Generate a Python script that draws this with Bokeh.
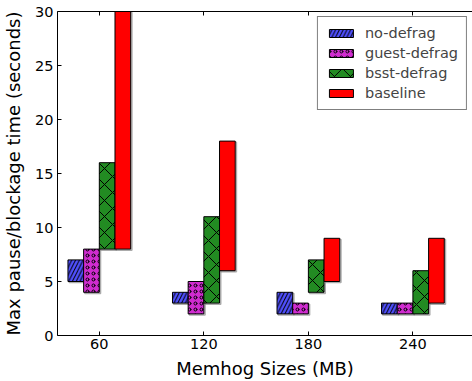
from bokeh.plotting import figure
from bokeh.models import (ColumnDataSource, Range1d, FixedTicker, LinearAxis, Legend, LegendItem)
from bokeh.transform import dodge
from bokeh.embed import file_html
from bokeh.resources import INLINE

sizes = [60, 120, 180, 240]
series = ["no-defrag", "guest-defrag", "bsst-defrag", "baseline"]
nodefrag_low = [5, 3, 2, 2]
nodefrag_high = [7, 4, 4, 3]
guest_low = [4, 2, 2, 2]
guest_high = [8, 5, 3, 3]
bsst_low = [8, 3, 4, 2]
bsst_high = [16, 11, 7, 6]
base_low = [8, 6, 5, 3]
base_high = [30, 18, 9, 9]

FONT = "DejaVu Sans"

p = figure(width=472, height=381, output_backend="svg", toolbar_location=None,
           x_range=Range1d(36, 274.2), y_range=Range1d(0, 30),
           min_border_left=56, min_border_right=0, min_border_top=11, min_border_bottom=44)
p.outline_line_color = None
p.grid.visible = False
p.background_fill_color = "white"

styles = [
    dict(low=nodefrag_low, high=nodefrag_high, color="#5050ff", hatch="/", scale=7.5, off=-13.5),
    dict(low=guest_low, high=guest_high, color="#d02cd0", hatch="o", scale=6, off=-4.5),
    dict(low=bsst_low, high=bsst_high, color="#228b22", hatch="x", scale=16, off=4.5),
    dict(low=base_low, high=base_high, color="#ff0000", hatch=" ", scale=12, off=13.5),
]

items = []
for name, s in zip(series, styles):
    src = ColumnDataSource(dict(x=sizes, bottom=s["low"], top=s["high"]))
    # soft shadow
    p.vbar(x=dodge("x", s["off"] + 0.7, range=p.x_range), width=9, bottom=dodge("bottom", -0.1, range=p.y_range),
           top=dodge("top", -0.1, range=p.y_range), source=src,
           fill_color=None, line_color="#888888", line_alpha=0.7, line_width=1.5)
    r = p.vbar(x=dodge("x", s["off"], range=p.x_range), width=9, bottom="bottom", top="top", source=src,
               fill_color=s["color"], line_color="black", line_width=1,
               hatch_pattern=s["hatch"], hatch_color="black", hatch_scale=s["scale"], hatch_weight=1)
    items.append(LegendItem(label=name, renderers=[r]))

legend = Legend(items=items, location="top_right")
legend.label_text_font = FONT
legend.label_text_font_size = "14.5px"
legend.border_line_color = "black"
legend.border_line_width = 1
legend.glyph_width = 30
legend.glyph_height = 10
legend.label_height = 10
legend.spacing = 4
legend.padding = 8
legend.margin = 5
legend.label_standoff = 9
p.add_layout(legend)

xa = p.xaxis[0]
xa.ticker = FixedTicker(ticks=sizes)
xa.axis_label = "Memhog Sizes (MB)"
ya = p.yaxis[0]
ya.ticker = FixedTicker(ticks=[0, 5, 10, 15, 20, 25, 30])
ya.axis_label = "Max pause/blockage time (seconds)"
for ax in (xa, ya):
    ax.major_tick_in = 4
    ax.major_tick_out = 0
    ax.minor_tick_line_color = None
    ax.axis_line_color = "black"
    ax.major_tick_line_color = "black"
    ax.major_label_text_font = FONT
    ax.major_label_text_font_size = "14.5px"
    ax.major_label_text_color = "black"
    ax.axis_label_text_font = FONT
    ax.axis_label_text_font_size = "18px"
    ax.axis_label_text_font_style = "normal"
    ax.axis_label_text_color = "black"
xa.major_label_standoff = 3
xa.axis_label_standoff = 6
ya.major_label_standoff = 4
ya.axis_label_standoff = 8

top = LinearAxis(ticker=FixedTicker(ticks=sizes), major_tick_in=4, major_tick_out=0,
                 minor_tick_line_color=None, major_label_text_font_size="1px",
                 major_label_text_color=None, major_label_standoff=0, axis_line_color="black")
p.add_layout(top, "above")

open("out.html", "w").write(file_html(p, INLINE))
